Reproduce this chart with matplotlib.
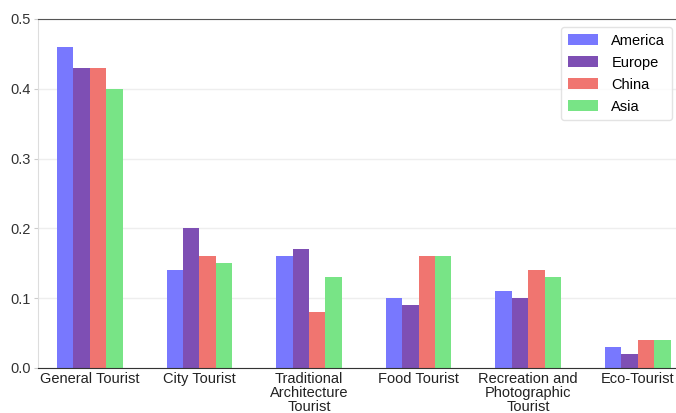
import numpy as np
import matplotlib
matplotlib.use("Agg")
import matplotlib.pyplot as plt

plt.rcParams["font.family"] = ["Liberation Sans", "DejaVu Sans"]
plt.rcParams["font.size"] = 10.5

categories = ["General Tourist", "City Tourist", "Traditional\nArchitecture\nTourist",
              "Food Tourist", "Recreation and\nPhotographic\nTourist", "Eco-Tourist"]
america = [0.46, 0.14, 0.16, 0.10, 0.11, 0.03]
europe = [0.43, 0.20, 0.17, 0.09, 0.10, 0.02]
china = [0.43, 0.16, 0.08, 0.16, 0.14, 0.04]
asia = [0.40, 0.15, 0.13, 0.16, 0.13, 0.04]

series = [("America", america, "#7878fe"),
          ("Europe", europe, "#7e4fb4"),
          ("China", china, "#f07570"),
          ("Asia", asia, "#78e486")]

fig = plt.figure(figsize=(6.76, 4.13), dpi=100)
ax = fig.add_axes([0.056, 0.109, 0.944, 0.845])

x = np.arange(len(categories))
w = 0.15
for i, (name, vals, col) in enumerate(series):
    ax.bar(x + (i - 1.5) * w, vals, w, color=col, label=name, linewidth=0, zorder=2)

ax.set_xlim(-0.475, 5.35)
ax.set_ylim(0, 0.5)
ax.set_yticks([0, 0.1, 0.2, 0.3, 0.4, 0.5])
ax.set_xticks(x)
ax.set_xticklabels(categories, va="top", linespacing=1.0)
ax.tick_params(axis="x", length=0, pad=3, colors="#222222")
ax.tick_params(axis="y", length=3, color="#cccccc", labelcolor="#333333", pad=2)
ax.grid(axis="y", color="#eeeeee", linewidth=1, zorder=0)

ax.spines["left"].set_color("#dddddd")
ax.spines["right"].set_visible(False)
ax.spines["top"].set_color("#555555")
ax.spines["bottom"].set_color("#333333")

leg = ax.legend(loc="upper right", fontsize=10.5, handlelength=2.1, handleheight=0.75,
                borderpad=0.45, labelspacing=0.55, handletextpad=0.9,
                borderaxespad=0.2, bbox_to_anchor=(0.998, 0.985))
leg.get_frame().set_edgecolor("#dddddd")

fig.savefig("out.png", dpi=100)
